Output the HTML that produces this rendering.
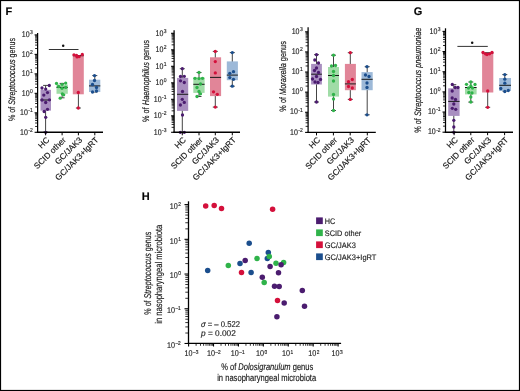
<!DOCTYPE html>
<html><head><meta charset="utf-8"><style>
html,body{margin:0;padding:0;background:#fff;}
svg{display:block;will-change:transform;}
text{stroke:#222;stroke-width:0.15px;text-rendering:geometricPrecision;}
</style></head><body>
<svg width="520" height="391" viewBox="0 0 520 391">
<rect x="0" y="0" width="520" height="391" fill="#fff"/>
<text x="5.5" y="15.3" font-family="Liberation Sans, sans-serif" font-size="11" font-weight="bold" fill="#000">F</text>
<text x="14.9" y="79.5" font-family="Liberation Sans, sans-serif" font-size="9.4" text-anchor="middle" fill="#111" transform="rotate(-90 14.9 79.5)" textLength="83" lengthAdjust="spacingAndGlyphs">% of <tspan font-style="italic">Streptococcus</tspan> genus</text>
<line x1="37.6" y1="33" x2="37.6" y2="132.9" stroke="#000" stroke-width="1.25"/>
<line x1="34.6" y1="34.90" x2="37.6" y2="34.90" stroke="#000" stroke-width="1.1"/>
<line x1="35.1" y1="48.52" x2="37.6" y2="48.52" stroke="#000" stroke-width="0.85"/>
<line x1="35.1" y1="45.09" x2="37.6" y2="45.09" stroke="#000" stroke-width="0.85"/>
<line x1="35.1" y1="42.65" x2="37.6" y2="42.65" stroke="#000" stroke-width="0.85"/>
<line x1="35.1" y1="40.76" x2="37.6" y2="40.76" stroke="#000" stroke-width="0.85"/>
<line x1="35.1" y1="39.22" x2="37.6" y2="39.22" stroke="#000" stroke-width="0.85"/>
<line x1="35.1" y1="37.92" x2="37.6" y2="37.92" stroke="#000" stroke-width="0.85"/>
<line x1="35.1" y1="36.79" x2="37.6" y2="36.79" stroke="#000" stroke-width="0.85"/>
<line x1="35.1" y1="35.79" x2="37.6" y2="35.79" stroke="#000" stroke-width="0.85"/>
<g transform="translate(21.78 37.10) scale(0.86 1)"><text x="0" y="0" font-family="Liberation Sans, sans-serif" font-size="8.2" fill="#222">10</text><text x="9.58" y="-2.9" font-family="Liberation Sans, sans-serif" font-size="5.8" fill="#222">3</text></g>
<line x1="34.6" y1="54.38" x2="37.6" y2="54.38" stroke="#000" stroke-width="1.1"/>
<line x1="35.1" y1="68.00" x2="37.6" y2="68.00" stroke="#000" stroke-width="0.85"/>
<line x1="35.1" y1="64.57" x2="37.6" y2="64.57" stroke="#000" stroke-width="0.85"/>
<line x1="35.1" y1="62.13" x2="37.6" y2="62.13" stroke="#000" stroke-width="0.85"/>
<line x1="35.1" y1="60.24" x2="37.6" y2="60.24" stroke="#000" stroke-width="0.85"/>
<line x1="35.1" y1="58.70" x2="37.6" y2="58.70" stroke="#000" stroke-width="0.85"/>
<line x1="35.1" y1="57.40" x2="37.6" y2="57.40" stroke="#000" stroke-width="0.85"/>
<line x1="35.1" y1="56.27" x2="37.6" y2="56.27" stroke="#000" stroke-width="0.85"/>
<line x1="35.1" y1="55.27" x2="37.6" y2="55.27" stroke="#000" stroke-width="0.85"/>
<g transform="translate(21.78 56.58) scale(0.86 1)"><text x="0" y="0" font-family="Liberation Sans, sans-serif" font-size="8.2" fill="#222">10</text><text x="9.58" y="-2.9" font-family="Liberation Sans, sans-serif" font-size="5.8" fill="#222">2</text></g>
<line x1="34.6" y1="73.86" x2="37.6" y2="73.86" stroke="#000" stroke-width="1.1"/>
<line x1="35.1" y1="87.48" x2="37.6" y2="87.48" stroke="#000" stroke-width="0.85"/>
<line x1="35.1" y1="84.05" x2="37.6" y2="84.05" stroke="#000" stroke-width="0.85"/>
<line x1="35.1" y1="81.61" x2="37.6" y2="81.61" stroke="#000" stroke-width="0.85"/>
<line x1="35.1" y1="79.72" x2="37.6" y2="79.72" stroke="#000" stroke-width="0.85"/>
<line x1="35.1" y1="78.18" x2="37.6" y2="78.18" stroke="#000" stroke-width="0.85"/>
<line x1="35.1" y1="76.88" x2="37.6" y2="76.88" stroke="#000" stroke-width="0.85"/>
<line x1="35.1" y1="75.75" x2="37.6" y2="75.75" stroke="#000" stroke-width="0.85"/>
<line x1="35.1" y1="74.75" x2="37.6" y2="74.75" stroke="#000" stroke-width="0.85"/>
<g transform="translate(21.78 76.06) scale(0.86 1)"><text x="0" y="0" font-family="Liberation Sans, sans-serif" font-size="8.2" fill="#222">10</text><text x="9.58" y="-2.9" font-family="Liberation Sans, sans-serif" font-size="5.8" fill="#222">1</text></g>
<line x1="34.6" y1="93.34" x2="37.6" y2="93.34" stroke="#000" stroke-width="1.1"/>
<line x1="35.1" y1="106.96" x2="37.6" y2="106.96" stroke="#000" stroke-width="0.85"/>
<line x1="35.1" y1="103.53" x2="37.6" y2="103.53" stroke="#000" stroke-width="0.85"/>
<line x1="35.1" y1="101.09" x2="37.6" y2="101.09" stroke="#000" stroke-width="0.85"/>
<line x1="35.1" y1="99.20" x2="37.6" y2="99.20" stroke="#000" stroke-width="0.85"/>
<line x1="35.1" y1="97.66" x2="37.6" y2="97.66" stroke="#000" stroke-width="0.85"/>
<line x1="35.1" y1="96.36" x2="37.6" y2="96.36" stroke="#000" stroke-width="0.85"/>
<line x1="35.1" y1="95.23" x2="37.6" y2="95.23" stroke="#000" stroke-width="0.85"/>
<line x1="35.1" y1="94.23" x2="37.6" y2="94.23" stroke="#000" stroke-width="0.85"/>
<g transform="translate(21.78 95.54) scale(0.86 1)"><text x="0" y="0" font-family="Liberation Sans, sans-serif" font-size="8.2" fill="#222">10</text><text x="9.58" y="-2.9" font-family="Liberation Sans, sans-serif" font-size="5.8" fill="#222">0</text></g>
<line x1="34.6" y1="112.82" x2="37.6" y2="112.82" stroke="#000" stroke-width="1.1"/>
<line x1="35.1" y1="126.44" x2="37.6" y2="126.44" stroke="#000" stroke-width="0.85"/>
<line x1="35.1" y1="123.01" x2="37.6" y2="123.01" stroke="#000" stroke-width="0.85"/>
<line x1="35.1" y1="120.57" x2="37.6" y2="120.57" stroke="#000" stroke-width="0.85"/>
<line x1="35.1" y1="118.68" x2="37.6" y2="118.68" stroke="#000" stroke-width="0.85"/>
<line x1="35.1" y1="117.14" x2="37.6" y2="117.14" stroke="#000" stroke-width="0.85"/>
<line x1="35.1" y1="115.84" x2="37.6" y2="115.84" stroke="#000" stroke-width="0.85"/>
<line x1="35.1" y1="114.71" x2="37.6" y2="114.71" stroke="#000" stroke-width="0.85"/>
<line x1="35.1" y1="113.71" x2="37.6" y2="113.71" stroke="#000" stroke-width="0.85"/>
<g transform="translate(20.12 115.02) scale(0.86 1)"><text x="0" y="0" font-family="Liberation Sans, sans-serif" font-size="8.2" fill="#222">10</text><text x="9.58" y="-2.9" font-family="Liberation Sans, sans-serif" font-size="5.8" fill="#222">-1</text></g>
<line x1="34.6" y1="132.30" x2="37.6" y2="132.30" stroke="#000" stroke-width="1.1"/>
<g transform="translate(20.12 134.50) scale(0.86 1)"><text x="0" y="0" font-family="Liberation Sans, sans-serif" font-size="8.2" fill="#222">10</text><text x="9.58" y="-2.9" font-family="Liberation Sans, sans-serif" font-size="5.8" fill="#222">-2</text></g>
<line x1="45.6" y1="85.4" x2="45.6" y2="132.2" stroke="#444" stroke-width="1"/>
<line x1="43.1" y1="85.4" x2="48.1" y2="85.4" stroke="#444" stroke-width="1"/>
<line x1="43.1" y1="132.2" x2="48.1" y2="132.2" stroke="#444" stroke-width="1"/>
<rect x="40.5" y="89.8" width="10.5" height="20.799999999999997" fill="#a98fc0"/>
<line x1="40.5" y1="100" x2="51" y2="100" stroke="#1a1a1a" stroke-width="1"/>
<circle cx="49.3" cy="85.5" r="1.65" fill="#4b1c6f"/>
<circle cx="42" cy="88" r="1.65" fill="#4b1c6f"/>
<circle cx="45.7" cy="89.1" r="1.65" fill="#4b1c6f"/>
<circle cx="47.5" cy="92.6" r="1.65" fill="#4b1c6f"/>
<circle cx="43.8" cy="95.1" r="1.65" fill="#4b1c6f"/>
<circle cx="42" cy="100" r="1.65" fill="#4b1c6f"/>
<circle cx="49.4" cy="99.8" r="1.65" fill="#4b1c6f"/>
<circle cx="45.7" cy="102.5" r="1.65" fill="#4b1c6f"/>
<circle cx="47.5" cy="109.3" r="1.65" fill="#4b1c6f"/>
<circle cx="44.2" cy="111.5" r="1.65" fill="#4b1c6f"/>
<circle cx="45.7" cy="117.3" r="1.65" fill="#4b1c6f"/>
<circle cx="45.7" cy="132.3" r="1.65" fill="#4b1c6f"/>
<line x1="62.1" y1="83.4" x2="62.1" y2="97.8" stroke="#444" stroke-width="1"/>
<line x1="59.6" y1="83.4" x2="64.6" y2="83.4" stroke="#444" stroke-width="1"/>
<line x1="59.6" y1="97.8" x2="64.6" y2="97.8" stroke="#444" stroke-width="1"/>
<rect x="56.5" y="84.5" width="11.299999999999997" height="9.299999999999997" fill="#a0dca7"/>
<line x1="56.5" y1="87.4" x2="67.8" y2="87.4" stroke="#1a1a1a" stroke-width="1"/>
<circle cx="56.5" cy="83.4" r="1.65" fill="#2fb34a"/>
<circle cx="62.1" cy="84.3" r="1.65" fill="#2fb34a"/>
<circle cx="65.7" cy="83.1" r="1.65" fill="#2fb34a"/>
<circle cx="58.6" cy="86.5" r="1.65" fill="#2fb34a"/>
<circle cx="62" cy="88.3" r="1.65" fill="#2fb34a"/>
<circle cx="65.7" cy="87.4" r="1.65" fill="#2fb34a"/>
<circle cx="62.3" cy="93.8" r="1.65" fill="#2fb34a"/>
<circle cx="63.7" cy="94.8" r="1.65" fill="#2fb34a"/>
<circle cx="60.2" cy="98.2" r="1.65" fill="#2fb34a"/>
<line x1="78.4" y1="55.7" x2="78.4" y2="108" stroke="#444" stroke-width="1"/>
<line x1="75.9" y1="55.7" x2="80.9" y2="55.7" stroke="#444" stroke-width="1"/>
<line x1="75.9" y1="108" x2="80.9" y2="108" stroke="#444" stroke-width="1"/>
<rect x="72.8" y="55.7" width="11.0" height="38.599999999999994" fill="#e18598"/>
<line x1="72.8" y1="55.7" x2="83.8" y2="55.7" stroke="#1a1a1a" stroke-width="1"/>
<circle cx="74" cy="54.8" r="1.65" fill="#d4103b"/>
<circle cx="82.3" cy="54.5" r="1.65" fill="#d4103b"/>
<circle cx="77.1" cy="56.9" r="1.65" fill="#d4103b"/>
<circle cx="79.2" cy="56.6" r="1.65" fill="#d4103b"/>
<circle cx="76.5" cy="55.4" r="1.65" fill="#d4103b"/>
<circle cx="78.3" cy="92.5" r="1.65" fill="#d4103b"/>
<circle cx="78.3" cy="108" r="1.65" fill="#d4103b"/>
<line x1="94.8" y1="75.6" x2="94.8" y2="92" stroke="#444" stroke-width="1"/>
<line x1="92.3" y1="75.6" x2="97.3" y2="75.6" stroke="#444" stroke-width="1"/>
<line x1="92.3" y1="92" x2="97.3" y2="92" stroke="#444" stroke-width="1"/>
<rect x="89" y="79.7" width="11.299999999999997" height="12.299999999999997" fill="#9db9d8"/>
<line x1="89" y1="85.9" x2="100.3" y2="85.9" stroke="#1a1a1a" stroke-width="1"/>
<circle cx="94.5" cy="75.6" r="1.65" fill="#1b4e8d"/>
<circle cx="94.5" cy="80.5" r="1.65" fill="#1b4e8d"/>
<circle cx="92.5" cy="84.5" r="1.65" fill="#1b4e8d"/>
<circle cx="96.5" cy="87.5" r="1.65" fill="#1b4e8d"/>
<circle cx="92.5" cy="92" r="1.65" fill="#1b4e8d"/>
<circle cx="96.5" cy="91" r="1.65" fill="#1b4e8d"/>
<line x1="36.9" y1="132.3" x2="103" y2="132.3" stroke="#000" stroke-width="1.4"/>
<line x1="45.6" y1="132.3" x2="45.6" y2="135.3" stroke="#000" stroke-width="1"/>
<line x1="62.1" y1="132.3" x2="62.1" y2="135.3" stroke="#000" stroke-width="1"/>
<line x1="78.4" y1="132.3" x2="78.4" y2="135.3" stroke="#000" stroke-width="1"/>
<line x1="94.8" y1="132.3" x2="94.8" y2="135.3" stroke="#000" stroke-width="1"/>
<text x="49.9" y="140.5" font-family="Liberation Sans, sans-serif" font-size="8.3" text-anchor="end" fill="#111" transform="rotate(-45 49.9 140.5)">HC</text>
<text x="66.4" y="140.5" font-family="Liberation Sans, sans-serif" font-size="8.3" text-anchor="end" fill="#111" transform="rotate(-45 66.4 140.5)">SCID other</text>
<text x="82.7" y="140.5" font-family="Liberation Sans, sans-serif" font-size="8.3" text-anchor="end" fill="#111" transform="rotate(-45 82.7 140.5)">GC/JAK3</text>
<text x="99.1" y="140.5" font-family="Liberation Sans, sans-serif" font-size="8.3" text-anchor="end" fill="#111" transform="rotate(-45 99.1 140.5)">GC/JAK3+IgRT</text>
<line x1="48.8" y1="49.5" x2="78.5" y2="49.5" stroke="#333" stroke-width="1"/>
<circle cx="63.2" cy="45.7" r="1.25" fill="#111"/>
<text x="148.6" y="81" font-family="Liberation Sans, sans-serif" font-size="9.4" text-anchor="middle" fill="#111" transform="rotate(-90 148.6 81)" textLength="82" lengthAdjust="spacingAndGlyphs">% of <tspan font-style="italic">Haemophilus</tspan> genus</text>
<line x1="174.1" y1="30.2" x2="174.1" y2="132.9" stroke="#000" stroke-width="1.25"/>
<line x1="171.1" y1="33.30" x2="174.1" y2="33.30" stroke="#000" stroke-width="1.1"/>
<line x1="171.6" y1="44.83" x2="174.1" y2="44.83" stroke="#000" stroke-width="0.85"/>
<line x1="171.6" y1="41.93" x2="174.1" y2="41.93" stroke="#000" stroke-width="0.85"/>
<line x1="171.6" y1="39.87" x2="174.1" y2="39.87" stroke="#000" stroke-width="0.85"/>
<line x1="171.6" y1="38.27" x2="174.1" y2="38.27" stroke="#000" stroke-width="0.85"/>
<line x1="171.6" y1="36.96" x2="174.1" y2="36.96" stroke="#000" stroke-width="0.85"/>
<line x1="171.6" y1="35.86" x2="174.1" y2="35.86" stroke="#000" stroke-width="0.85"/>
<line x1="171.6" y1="34.90" x2="174.1" y2="34.90" stroke="#000" stroke-width="0.85"/>
<line x1="171.6" y1="34.05" x2="174.1" y2="34.05" stroke="#000" stroke-width="0.85"/>
<g transform="translate(155.48 35.50) scale(0.86 1)"><text x="0" y="0" font-family="Liberation Sans, sans-serif" font-size="8.2" fill="#222">10</text><text x="9.58" y="-2.9" font-family="Liberation Sans, sans-serif" font-size="5.8" fill="#222">3</text></g>
<line x1="171.1" y1="49.80" x2="174.1" y2="49.80" stroke="#000" stroke-width="1.1"/>
<line x1="171.6" y1="61.33" x2="174.1" y2="61.33" stroke="#000" stroke-width="0.85"/>
<line x1="171.6" y1="58.43" x2="174.1" y2="58.43" stroke="#000" stroke-width="0.85"/>
<line x1="171.6" y1="56.37" x2="174.1" y2="56.37" stroke="#000" stroke-width="0.85"/>
<line x1="171.6" y1="54.77" x2="174.1" y2="54.77" stroke="#000" stroke-width="0.85"/>
<line x1="171.6" y1="53.46" x2="174.1" y2="53.46" stroke="#000" stroke-width="0.85"/>
<line x1="171.6" y1="52.36" x2="174.1" y2="52.36" stroke="#000" stroke-width="0.85"/>
<line x1="171.6" y1="51.40" x2="174.1" y2="51.40" stroke="#000" stroke-width="0.85"/>
<line x1="171.6" y1="50.55" x2="174.1" y2="50.55" stroke="#000" stroke-width="0.85"/>
<g transform="translate(155.48 52.00) scale(0.86 1)"><text x="0" y="0" font-family="Liberation Sans, sans-serif" font-size="8.2" fill="#222">10</text><text x="9.58" y="-2.9" font-family="Liberation Sans, sans-serif" font-size="5.8" fill="#222">2</text></g>
<line x1="171.1" y1="66.30" x2="174.1" y2="66.30" stroke="#000" stroke-width="1.1"/>
<line x1="171.6" y1="77.83" x2="174.1" y2="77.83" stroke="#000" stroke-width="0.85"/>
<line x1="171.6" y1="74.93" x2="174.1" y2="74.93" stroke="#000" stroke-width="0.85"/>
<line x1="171.6" y1="72.87" x2="174.1" y2="72.87" stroke="#000" stroke-width="0.85"/>
<line x1="171.6" y1="71.27" x2="174.1" y2="71.27" stroke="#000" stroke-width="0.85"/>
<line x1="171.6" y1="69.96" x2="174.1" y2="69.96" stroke="#000" stroke-width="0.85"/>
<line x1="171.6" y1="68.86" x2="174.1" y2="68.86" stroke="#000" stroke-width="0.85"/>
<line x1="171.6" y1="67.90" x2="174.1" y2="67.90" stroke="#000" stroke-width="0.85"/>
<line x1="171.6" y1="67.05" x2="174.1" y2="67.05" stroke="#000" stroke-width="0.85"/>
<g transform="translate(155.48 68.50) scale(0.86 1)"><text x="0" y="0" font-family="Liberation Sans, sans-serif" font-size="8.2" fill="#222">10</text><text x="9.58" y="-2.9" font-family="Liberation Sans, sans-serif" font-size="5.8" fill="#222">1</text></g>
<line x1="171.1" y1="82.80" x2="174.1" y2="82.80" stroke="#000" stroke-width="1.1"/>
<line x1="171.6" y1="94.33" x2="174.1" y2="94.33" stroke="#000" stroke-width="0.85"/>
<line x1="171.6" y1="91.43" x2="174.1" y2="91.43" stroke="#000" stroke-width="0.85"/>
<line x1="171.6" y1="89.37" x2="174.1" y2="89.37" stroke="#000" stroke-width="0.85"/>
<line x1="171.6" y1="87.77" x2="174.1" y2="87.77" stroke="#000" stroke-width="0.85"/>
<line x1="171.6" y1="86.46" x2="174.1" y2="86.46" stroke="#000" stroke-width="0.85"/>
<line x1="171.6" y1="85.36" x2="174.1" y2="85.36" stroke="#000" stroke-width="0.85"/>
<line x1="171.6" y1="84.40" x2="174.1" y2="84.40" stroke="#000" stroke-width="0.85"/>
<line x1="171.6" y1="83.55" x2="174.1" y2="83.55" stroke="#000" stroke-width="0.85"/>
<g transform="translate(155.48 85.00) scale(0.86 1)"><text x="0" y="0" font-family="Liberation Sans, sans-serif" font-size="8.2" fill="#222">10</text><text x="9.58" y="-2.9" font-family="Liberation Sans, sans-serif" font-size="5.8" fill="#222">0</text></g>
<line x1="171.1" y1="99.30" x2="174.1" y2="99.30" stroke="#000" stroke-width="1.1"/>
<line x1="171.6" y1="110.83" x2="174.1" y2="110.83" stroke="#000" stroke-width="0.85"/>
<line x1="171.6" y1="107.93" x2="174.1" y2="107.93" stroke="#000" stroke-width="0.85"/>
<line x1="171.6" y1="105.87" x2="174.1" y2="105.87" stroke="#000" stroke-width="0.85"/>
<line x1="171.6" y1="104.27" x2="174.1" y2="104.27" stroke="#000" stroke-width="0.85"/>
<line x1="171.6" y1="102.96" x2="174.1" y2="102.96" stroke="#000" stroke-width="0.85"/>
<line x1="171.6" y1="101.86" x2="174.1" y2="101.86" stroke="#000" stroke-width="0.85"/>
<line x1="171.6" y1="100.90" x2="174.1" y2="100.90" stroke="#000" stroke-width="0.85"/>
<line x1="171.6" y1="100.05" x2="174.1" y2="100.05" stroke="#000" stroke-width="0.85"/>
<g transform="translate(153.82 101.50) scale(0.86 1)"><text x="0" y="0" font-family="Liberation Sans, sans-serif" font-size="8.2" fill="#222">10</text><text x="9.58" y="-2.9" font-family="Liberation Sans, sans-serif" font-size="5.8" fill="#222">-1</text></g>
<line x1="171.1" y1="115.80" x2="174.1" y2="115.80" stroke="#000" stroke-width="1.1"/>
<line x1="171.6" y1="127.33" x2="174.1" y2="127.33" stroke="#000" stroke-width="0.85"/>
<line x1="171.6" y1="124.43" x2="174.1" y2="124.43" stroke="#000" stroke-width="0.85"/>
<line x1="171.6" y1="122.37" x2="174.1" y2="122.37" stroke="#000" stroke-width="0.85"/>
<line x1="171.6" y1="120.77" x2="174.1" y2="120.77" stroke="#000" stroke-width="0.85"/>
<line x1="171.6" y1="119.46" x2="174.1" y2="119.46" stroke="#000" stroke-width="0.85"/>
<line x1="171.6" y1="118.36" x2="174.1" y2="118.36" stroke="#000" stroke-width="0.85"/>
<line x1="171.6" y1="117.40" x2="174.1" y2="117.40" stroke="#000" stroke-width="0.85"/>
<line x1="171.6" y1="116.55" x2="174.1" y2="116.55" stroke="#000" stroke-width="0.85"/>
<g transform="translate(153.82 118.00) scale(0.86 1)"><text x="0" y="0" font-family="Liberation Sans, sans-serif" font-size="8.2" fill="#222">10</text><text x="9.58" y="-2.9" font-family="Liberation Sans, sans-serif" font-size="5.8" fill="#222">-2</text></g>
<line x1="171.1" y1="132.30" x2="174.1" y2="132.30" stroke="#000" stroke-width="1.1"/>
<g transform="translate(153.82 134.50) scale(0.86 1)"><text x="0" y="0" font-family="Liberation Sans, sans-serif" font-size="8.2" fill="#222">10</text><text x="9.58" y="-2.9" font-family="Liberation Sans, sans-serif" font-size="5.8" fill="#222">-3</text></g>
<line x1="182.3" y1="68.7" x2="182.3" y2="132.3" stroke="#444" stroke-width="1"/>
<line x1="179.8" y1="68.7" x2="184.8" y2="68.7" stroke="#444" stroke-width="1"/>
<line x1="179.8" y1="132.3" x2="184.8" y2="132.3" stroke="#444" stroke-width="1"/>
<rect x="177" y="77.9" width="11.199999999999989" height="33.0" fill="#a98fc0"/>
<line x1="177" y1="94.3" x2="188.2" y2="94.3" stroke="#1a1a1a" stroke-width="1"/>
<circle cx="182.3" cy="68.7" r="1.65" fill="#4b1c6f"/>
<circle cx="180.5" cy="76.5" r="1.65" fill="#4b1c6f"/>
<circle cx="184.3" cy="76.3" r="1.65" fill="#4b1c6f"/>
<circle cx="180.5" cy="80.8" r="1.65" fill="#4b1c6f"/>
<circle cx="184.3" cy="82.5" r="1.65" fill="#4b1c6f"/>
<circle cx="182.5" cy="91.5" r="1.65" fill="#4b1c6f"/>
<circle cx="182.3" cy="99.3" r="1.65" fill="#4b1c6f"/>
<circle cx="184.3" cy="102.4" r="1.65" fill="#4b1c6f"/>
<circle cx="180.4" cy="105" r="1.65" fill="#4b1c6f"/>
<circle cx="182.5" cy="115" r="1.65" fill="#4b1c6f"/>
<circle cx="180.3" cy="132.3" r="1.65" fill="#4b1c6f"/>
<circle cx="184.3" cy="132.3" r="1.65" fill="#4b1c6f"/>
<line x1="199" y1="72.5" x2="199" y2="96.5" stroke="#444" stroke-width="1"/>
<line x1="196.5" y1="72.5" x2="201.5" y2="72.5" stroke="#444" stroke-width="1"/>
<line x1="196.5" y1="96.5" x2="201.5" y2="96.5" stroke="#444" stroke-width="1"/>
<rect x="193.3" y="77.4" width="11.299999999999983" height="15.5" fill="#a0dca7"/>
<line x1="193.3" y1="84.3" x2="204.6" y2="84.3" stroke="#1a1a1a" stroke-width="1"/>
<circle cx="199" cy="72.5" r="1.65" fill="#2fb34a"/>
<circle cx="195" cy="78.3" r="1.65" fill="#2fb34a"/>
<circle cx="199" cy="78.6" r="1.65" fill="#2fb34a"/>
<circle cx="202.5" cy="78.3" r="1.65" fill="#2fb34a"/>
<circle cx="200.5" cy="84" r="1.65" fill="#2fb34a"/>
<circle cx="197" cy="87.5" r="1.65" fill="#2fb34a"/>
<circle cx="199" cy="91.5" r="1.65" fill="#2fb34a"/>
<circle cx="200.5" cy="93.8" r="1.65" fill="#2fb34a"/>
<circle cx="197" cy="96.5" r="1.65" fill="#2fb34a"/>
<line x1="215.3" y1="51.4" x2="215.3" y2="107.1" stroke="#444" stroke-width="1"/>
<line x1="212.8" y1="51.4" x2="217.8" y2="51.4" stroke="#444" stroke-width="1"/>
<line x1="212.8" y1="107.1" x2="217.8" y2="107.1" stroke="#444" stroke-width="1"/>
<rect x="210" y="57.3" width="11.099999999999994" height="38.8" fill="#e18598"/>
<line x1="210" y1="77.4" x2="221.1" y2="77.4" stroke="#1a1a1a" stroke-width="1"/>
<circle cx="215.3" cy="51.4" r="1.65" fill="#d4103b"/>
<circle cx="215.3" cy="61.6" r="1.65" fill="#d4103b"/>
<circle cx="215.3" cy="72.9" r="1.65" fill="#d4103b"/>
<circle cx="213.5" cy="91.8" r="1.65" fill="#d4103b"/>
<circle cx="217.3" cy="94.3" r="1.65" fill="#d4103b"/>
<circle cx="215.3" cy="107.1" r="1.65" fill="#d4103b"/>
<line x1="232.3" y1="52.6" x2="232.3" y2="86.2" stroke="#444" stroke-width="1"/>
<line x1="229.8" y1="52.6" x2="234.8" y2="52.6" stroke="#444" stroke-width="1"/>
<line x1="229.8" y1="86.2" x2="234.8" y2="86.2" stroke="#444" stroke-width="1"/>
<rect x="226.8" y="61.4" width="11.099999999999994" height="18.800000000000004" fill="#9db9d8"/>
<line x1="226.8" y1="75.1" x2="237.9" y2="75.1" stroke="#1a1a1a" stroke-width="1"/>
<circle cx="232.3" cy="52.6" r="1.65" fill="#1b4e8d"/>
<circle cx="229.8" cy="73.3" r="1.65" fill="#1b4e8d"/>
<circle cx="233.5" cy="71.7" r="1.65" fill="#1b4e8d"/>
<circle cx="229.8" cy="77.6" r="1.65" fill="#1b4e8d"/>
<circle cx="233.5" cy="79.3" r="1.65" fill="#1b4e8d"/>
<circle cx="232.3" cy="86.2" r="1.65" fill="#1b4e8d"/>
<line x1="173.4" y1="132.3" x2="240" y2="132.3" stroke="#000" stroke-width="1.4"/>
<line x1="182.3" y1="132.3" x2="182.3" y2="135.3" stroke="#000" stroke-width="1"/>
<line x1="199" y1="132.3" x2="199" y2="135.3" stroke="#000" stroke-width="1"/>
<line x1="215.3" y1="132.3" x2="215.3" y2="135.3" stroke="#000" stroke-width="1"/>
<line x1="232.3" y1="132.3" x2="232.3" y2="135.3" stroke="#000" stroke-width="1"/>
<text x="186.60000000000002" y="140.5" font-family="Liberation Sans, sans-serif" font-size="8.3" text-anchor="end" fill="#111" transform="rotate(-45 186.60000000000002 140.5)">HC</text>
<text x="203.3" y="140.5" font-family="Liberation Sans, sans-serif" font-size="8.3" text-anchor="end" fill="#111" transform="rotate(-45 203.3 140.5)">SCID other</text>
<text x="219.60000000000002" y="140.5" font-family="Liberation Sans, sans-serif" font-size="8.3" text-anchor="end" fill="#111" transform="rotate(-45 219.60000000000002 140.5)">GC/JAK3</text>
<text x="236.60000000000002" y="140.5" font-family="Liberation Sans, sans-serif" font-size="8.3" text-anchor="end" fill="#111" transform="rotate(-45 236.60000000000002 140.5)">GC/JAK3+IgRT</text>
<text x="286.4" y="76.4" font-family="Liberation Sans, sans-serif" font-size="9.4" text-anchor="middle" fill="#111" transform="rotate(-90 286.4 76.4)" textLength="70.5" lengthAdjust="spacingAndGlyphs">% of <tspan font-style="italic">Moraxella</tspan> genus</text>
<line x1="308.1" y1="27.2" x2="308.1" y2="133.0" stroke="#000" stroke-width="1.25"/>
<line x1="305.1" y1="31.80" x2="308.1" y2="31.80" stroke="#000" stroke-width="1.1"/>
<line x1="305.6" y1="45.86" x2="308.1" y2="45.86" stroke="#000" stroke-width="0.85"/>
<line x1="305.6" y1="42.32" x2="308.1" y2="42.32" stroke="#000" stroke-width="0.85"/>
<line x1="305.6" y1="39.81" x2="308.1" y2="39.81" stroke="#000" stroke-width="0.85"/>
<line x1="305.6" y1="37.86" x2="308.1" y2="37.86" stroke="#000" stroke-width="0.85"/>
<line x1="305.6" y1="36.26" x2="308.1" y2="36.26" stroke="#000" stroke-width="0.85"/>
<line x1="305.6" y1="34.92" x2="308.1" y2="34.92" stroke="#000" stroke-width="0.85"/>
<line x1="305.6" y1="33.75" x2="308.1" y2="33.75" stroke="#000" stroke-width="0.85"/>
<line x1="305.6" y1="32.72" x2="308.1" y2="32.72" stroke="#000" stroke-width="0.85"/>
<g transform="translate(291.68 34.00) scale(0.86 1)"><text x="0" y="0" font-family="Liberation Sans, sans-serif" font-size="8.2" fill="#222">10</text><text x="9.58" y="-2.9" font-family="Liberation Sans, sans-serif" font-size="5.8" fill="#222">3</text></g>
<line x1="305.1" y1="51.92" x2="308.1" y2="51.92" stroke="#000" stroke-width="1.1"/>
<line x1="305.6" y1="65.98" x2="308.1" y2="65.98" stroke="#000" stroke-width="0.85"/>
<line x1="305.6" y1="62.44" x2="308.1" y2="62.44" stroke="#000" stroke-width="0.85"/>
<line x1="305.6" y1="59.93" x2="308.1" y2="59.93" stroke="#000" stroke-width="0.85"/>
<line x1="305.6" y1="57.98" x2="308.1" y2="57.98" stroke="#000" stroke-width="0.85"/>
<line x1="305.6" y1="56.38" x2="308.1" y2="56.38" stroke="#000" stroke-width="0.85"/>
<line x1="305.6" y1="55.04" x2="308.1" y2="55.04" stroke="#000" stroke-width="0.85"/>
<line x1="305.6" y1="53.87" x2="308.1" y2="53.87" stroke="#000" stroke-width="0.85"/>
<line x1="305.6" y1="52.84" x2="308.1" y2="52.84" stroke="#000" stroke-width="0.85"/>
<g transform="translate(291.68 54.12) scale(0.86 1)"><text x="0" y="0" font-family="Liberation Sans, sans-serif" font-size="8.2" fill="#222">10</text><text x="9.58" y="-2.9" font-family="Liberation Sans, sans-serif" font-size="5.8" fill="#222">2</text></g>
<line x1="305.1" y1="72.04" x2="308.1" y2="72.04" stroke="#000" stroke-width="1.1"/>
<line x1="305.6" y1="86.10" x2="308.1" y2="86.10" stroke="#000" stroke-width="0.85"/>
<line x1="305.6" y1="82.56" x2="308.1" y2="82.56" stroke="#000" stroke-width="0.85"/>
<line x1="305.6" y1="80.05" x2="308.1" y2="80.05" stroke="#000" stroke-width="0.85"/>
<line x1="305.6" y1="78.10" x2="308.1" y2="78.10" stroke="#000" stroke-width="0.85"/>
<line x1="305.6" y1="76.50" x2="308.1" y2="76.50" stroke="#000" stroke-width="0.85"/>
<line x1="305.6" y1="75.16" x2="308.1" y2="75.16" stroke="#000" stroke-width="0.85"/>
<line x1="305.6" y1="73.99" x2="308.1" y2="73.99" stroke="#000" stroke-width="0.85"/>
<line x1="305.6" y1="72.96" x2="308.1" y2="72.96" stroke="#000" stroke-width="0.85"/>
<g transform="translate(291.68 74.24) scale(0.86 1)"><text x="0" y="0" font-family="Liberation Sans, sans-serif" font-size="8.2" fill="#222">10</text><text x="9.58" y="-2.9" font-family="Liberation Sans, sans-serif" font-size="5.8" fill="#222">1</text></g>
<line x1="305.1" y1="92.16" x2="308.1" y2="92.16" stroke="#000" stroke-width="1.1"/>
<line x1="305.6" y1="106.22" x2="308.1" y2="106.22" stroke="#000" stroke-width="0.85"/>
<line x1="305.6" y1="102.68" x2="308.1" y2="102.68" stroke="#000" stroke-width="0.85"/>
<line x1="305.6" y1="100.17" x2="308.1" y2="100.17" stroke="#000" stroke-width="0.85"/>
<line x1="305.6" y1="98.22" x2="308.1" y2="98.22" stroke="#000" stroke-width="0.85"/>
<line x1="305.6" y1="96.62" x2="308.1" y2="96.62" stroke="#000" stroke-width="0.85"/>
<line x1="305.6" y1="95.28" x2="308.1" y2="95.28" stroke="#000" stroke-width="0.85"/>
<line x1="305.6" y1="94.11" x2="308.1" y2="94.11" stroke="#000" stroke-width="0.85"/>
<line x1="305.6" y1="93.08" x2="308.1" y2="93.08" stroke="#000" stroke-width="0.85"/>
<g transform="translate(291.68 94.36) scale(0.86 1)"><text x="0" y="0" font-family="Liberation Sans, sans-serif" font-size="8.2" fill="#222">10</text><text x="9.58" y="-2.9" font-family="Liberation Sans, sans-serif" font-size="5.8" fill="#222">0</text></g>
<line x1="305.1" y1="112.28" x2="308.1" y2="112.28" stroke="#000" stroke-width="1.1"/>
<line x1="305.6" y1="126.34" x2="308.1" y2="126.34" stroke="#000" stroke-width="0.85"/>
<line x1="305.6" y1="122.80" x2="308.1" y2="122.80" stroke="#000" stroke-width="0.85"/>
<line x1="305.6" y1="120.29" x2="308.1" y2="120.29" stroke="#000" stroke-width="0.85"/>
<line x1="305.6" y1="118.34" x2="308.1" y2="118.34" stroke="#000" stroke-width="0.85"/>
<line x1="305.6" y1="116.74" x2="308.1" y2="116.74" stroke="#000" stroke-width="0.85"/>
<line x1="305.6" y1="115.40" x2="308.1" y2="115.40" stroke="#000" stroke-width="0.85"/>
<line x1="305.6" y1="114.23" x2="308.1" y2="114.23" stroke="#000" stroke-width="0.85"/>
<line x1="305.6" y1="113.20" x2="308.1" y2="113.20" stroke="#000" stroke-width="0.85"/>
<g transform="translate(290.02 114.48) scale(0.86 1)"><text x="0" y="0" font-family="Liberation Sans, sans-serif" font-size="8.2" fill="#222">10</text><text x="9.58" y="-2.9" font-family="Liberation Sans, sans-serif" font-size="5.8" fill="#222">-1</text></g>
<line x1="305.1" y1="132.40" x2="308.1" y2="132.40" stroke="#000" stroke-width="1.1"/>
<g transform="translate(290.02 134.60) scale(0.86 1)"><text x="0" y="0" font-family="Liberation Sans, sans-serif" font-size="8.2" fill="#222">10</text><text x="9.58" y="-2.9" font-family="Liberation Sans, sans-serif" font-size="5.8" fill="#222">-2</text></g>
<line x1="316.5" y1="54.7" x2="316.5" y2="102" stroke="#444" stroke-width="1"/>
<line x1="314.0" y1="54.7" x2="319.0" y2="54.7" stroke="#444" stroke-width="1"/>
<line x1="314.0" y1="102" x2="319.0" y2="102" stroke="#444" stroke-width="1"/>
<rect x="311.1" y="63.9" width="10.799999999999955" height="20.6" fill="#a98fc0"/>
<line x1="311.1" y1="74.2" x2="321.9" y2="74.2" stroke="#1a1a1a" stroke-width="1"/>
<circle cx="316.5" cy="54.7" r="1.65" fill="#4b1c6f"/>
<circle cx="314.8" cy="60" r="1.65" fill="#4b1c6f"/>
<circle cx="318.5" cy="63" r="1.65" fill="#4b1c6f"/>
<circle cx="316.5" cy="68" r="1.65" fill="#4b1c6f"/>
<circle cx="314.5" cy="70.5" r="1.65" fill="#4b1c6f"/>
<circle cx="318.5" cy="72.5" r="1.65" fill="#4b1c6f"/>
<circle cx="316.5" cy="76.5" r="1.65" fill="#4b1c6f"/>
<circle cx="312.5" cy="79" r="1.65" fill="#4b1c6f"/>
<circle cx="320.5" cy="79.5" r="1.65" fill="#4b1c6f"/>
<circle cx="315" cy="82" r="1.65" fill="#4b1c6f"/>
<circle cx="318" cy="82.5" r="1.65" fill="#4b1c6f"/>
<circle cx="316.5" cy="102" r="1.65" fill="#4b1c6f"/>
<line x1="333.5" y1="55.2" x2="333.5" y2="110.5" stroke="#444" stroke-width="1"/>
<line x1="331.0" y1="55.2" x2="336.0" y2="55.2" stroke="#444" stroke-width="1"/>
<line x1="331.0" y1="110.5" x2="336.0" y2="110.5" stroke="#444" stroke-width="1"/>
<rect x="328" y="67" width="11" height="29.599999999999994" fill="#a0dca7"/>
<line x1="328" y1="75.5" x2="339" y2="75.5" stroke="#1a1a1a" stroke-width="1"/>
<circle cx="333.5" cy="55.2" r="1.65" fill="#2fb34a"/>
<circle cx="331.5" cy="66" r="1.65" fill="#2fb34a"/>
<circle cx="335.5" cy="65.5" r="1.65" fill="#2fb34a"/>
<circle cx="333.5" cy="71.5" r="1.65" fill="#2fb34a"/>
<circle cx="333.5" cy="75.5" r="1.65" fill="#2fb34a"/>
<circle cx="333.5" cy="81" r="1.65" fill="#2fb34a"/>
<circle cx="333.5" cy="94.5" r="1.65" fill="#2fb34a"/>
<circle cx="333.5" cy="99" r="1.65" fill="#2fb34a"/>
<circle cx="333.5" cy="110.5" r="1.65" fill="#2fb34a"/>
<line x1="350.3" y1="52.7" x2="350.3" y2="99.4" stroke="#444" stroke-width="1"/>
<line x1="347.8" y1="52.7" x2="352.8" y2="52.7" stroke="#444" stroke-width="1"/>
<line x1="347.8" y1="99.4" x2="352.8" y2="99.4" stroke="#444" stroke-width="1"/>
<rect x="344.9" y="63.9" width="11.0" height="26.300000000000004" fill="#e18598"/>
<line x1="344.9" y1="83.9" x2="355.9" y2="83.9" stroke="#1a1a1a" stroke-width="1"/>
<circle cx="350.3" cy="52.7" r="1.65" fill="#d4103b"/>
<circle cx="352.3" cy="79.5" r="1.65" fill="#d4103b"/>
<circle cx="348.5" cy="81.7" r="1.65" fill="#d4103b"/>
<circle cx="348.5" cy="86.5" r="1.65" fill="#d4103b"/>
<circle cx="352.3" cy="88" r="1.65" fill="#d4103b"/>
<circle cx="350.3" cy="99.4" r="1.65" fill="#d4103b"/>
<line x1="367.2" y1="66.7" x2="367.2" y2="114.8" stroke="#444" stroke-width="1"/>
<line x1="364.7" y1="66.7" x2="369.7" y2="66.7" stroke="#444" stroke-width="1"/>
<line x1="364.7" y1="114.8" x2="369.7" y2="114.8" stroke="#444" stroke-width="1"/>
<rect x="361.5" y="72.1" width="11.199999999999989" height="18.10000000000001" fill="#9db9d8"/>
<line x1="361.5" y1="79.3" x2="372.7" y2="79.3" stroke="#1a1a1a" stroke-width="1"/>
<circle cx="367" cy="66.7" r="1.65" fill="#1b4e8d"/>
<circle cx="365.5" cy="75" r="1.65" fill="#1b4e8d"/>
<circle cx="369" cy="76.5" r="1.65" fill="#1b4e8d"/>
<circle cx="367" cy="83" r="1.65" fill="#1b4e8d"/>
<circle cx="367" cy="87.5" r="1.65" fill="#1b4e8d"/>
<circle cx="367" cy="114.8" r="1.65" fill="#1b4e8d"/>
<line x1="307.40000000000003" y1="132.4" x2="375.8" y2="132.4" stroke="#000" stroke-width="1.4"/>
<line x1="316.5" y1="132.4" x2="316.5" y2="135.4" stroke="#000" stroke-width="1"/>
<line x1="333.4" y1="132.4" x2="333.4" y2="135.4" stroke="#000" stroke-width="1"/>
<line x1="350.2" y1="132.4" x2="350.2" y2="135.4" stroke="#000" stroke-width="1"/>
<line x1="367.3" y1="132.4" x2="367.3" y2="135.4" stroke="#000" stroke-width="1"/>
<text x="320.8" y="140.6" font-family="Liberation Sans, sans-serif" font-size="8.3" text-anchor="end" fill="#111" transform="rotate(-45 320.8 140.6)">HC</text>
<text x="337.7" y="140.6" font-family="Liberation Sans, sans-serif" font-size="8.3" text-anchor="end" fill="#111" transform="rotate(-45 337.7 140.6)">SCID other</text>
<text x="354.5" y="140.6" font-family="Liberation Sans, sans-serif" font-size="8.3" text-anchor="end" fill="#111" transform="rotate(-45 354.5 140.6)">GC/JAK3</text>
<text x="371.6" y="140.6" font-family="Liberation Sans, sans-serif" font-size="8.3" text-anchor="end" fill="#111" transform="rotate(-45 371.6 140.6)">GC/JAK3+IgRT</text>
<text x="413.8" y="15.3" font-family="Liberation Sans, sans-serif" font-size="11" font-weight="bold" fill="#000">G</text>
<text x="420.9" y="80.2" font-family="Liberation Sans, sans-serif" font-size="9.4" text-anchor="middle" fill="#111" transform="rotate(-90 420.9 80.2)" textLength="105" lengthAdjust="spacingAndGlyphs">% of <tspan font-style="italic">Streptococcus pneumoniae</tspan></text>
<line x1="445.5" y1="28.3" x2="445.5" y2="132.79999999999998" stroke="#000" stroke-width="1.25"/>
<line x1="442.5" y1="31.40" x2="445.5" y2="31.40" stroke="#000" stroke-width="1.1"/>
<line x1="443.0" y1="45.49" x2="445.5" y2="45.49" stroke="#000" stroke-width="0.85"/>
<line x1="443.0" y1="41.94" x2="445.5" y2="41.94" stroke="#000" stroke-width="0.85"/>
<line x1="443.0" y1="39.42" x2="445.5" y2="39.42" stroke="#000" stroke-width="0.85"/>
<line x1="443.0" y1="37.47" x2="445.5" y2="37.47" stroke="#000" stroke-width="0.85"/>
<line x1="443.0" y1="35.87" x2="445.5" y2="35.87" stroke="#000" stroke-width="0.85"/>
<line x1="443.0" y1="34.52" x2="445.5" y2="34.52" stroke="#000" stroke-width="0.85"/>
<line x1="443.0" y1="33.35" x2="445.5" y2="33.35" stroke="#000" stroke-width="0.85"/>
<line x1="443.0" y1="32.32" x2="445.5" y2="32.32" stroke="#000" stroke-width="0.85"/>
<g transform="translate(429.58 33.60) scale(0.86 1)"><text x="0" y="0" font-family="Liberation Sans, sans-serif" font-size="8.2" fill="#222">10</text><text x="9.58" y="-2.9" font-family="Liberation Sans, sans-serif" font-size="5.8" fill="#222">3</text></g>
<line x1="442.5" y1="51.56" x2="445.5" y2="51.56" stroke="#000" stroke-width="1.1"/>
<line x1="443.0" y1="65.65" x2="445.5" y2="65.65" stroke="#000" stroke-width="0.85"/>
<line x1="443.0" y1="62.10" x2="445.5" y2="62.10" stroke="#000" stroke-width="0.85"/>
<line x1="443.0" y1="59.58" x2="445.5" y2="59.58" stroke="#000" stroke-width="0.85"/>
<line x1="443.0" y1="57.63" x2="445.5" y2="57.63" stroke="#000" stroke-width="0.85"/>
<line x1="443.0" y1="56.03" x2="445.5" y2="56.03" stroke="#000" stroke-width="0.85"/>
<line x1="443.0" y1="54.68" x2="445.5" y2="54.68" stroke="#000" stroke-width="0.85"/>
<line x1="443.0" y1="53.51" x2="445.5" y2="53.51" stroke="#000" stroke-width="0.85"/>
<line x1="443.0" y1="52.48" x2="445.5" y2="52.48" stroke="#000" stroke-width="0.85"/>
<g transform="translate(429.58 53.76) scale(0.86 1)"><text x="0" y="0" font-family="Liberation Sans, sans-serif" font-size="8.2" fill="#222">10</text><text x="9.58" y="-2.9" font-family="Liberation Sans, sans-serif" font-size="5.8" fill="#222">2</text></g>
<line x1="442.5" y1="71.72" x2="445.5" y2="71.72" stroke="#000" stroke-width="1.1"/>
<line x1="443.0" y1="85.81" x2="445.5" y2="85.81" stroke="#000" stroke-width="0.85"/>
<line x1="443.0" y1="82.26" x2="445.5" y2="82.26" stroke="#000" stroke-width="0.85"/>
<line x1="443.0" y1="79.74" x2="445.5" y2="79.74" stroke="#000" stroke-width="0.85"/>
<line x1="443.0" y1="77.79" x2="445.5" y2="77.79" stroke="#000" stroke-width="0.85"/>
<line x1="443.0" y1="76.19" x2="445.5" y2="76.19" stroke="#000" stroke-width="0.85"/>
<line x1="443.0" y1="74.84" x2="445.5" y2="74.84" stroke="#000" stroke-width="0.85"/>
<line x1="443.0" y1="73.67" x2="445.5" y2="73.67" stroke="#000" stroke-width="0.85"/>
<line x1="443.0" y1="72.64" x2="445.5" y2="72.64" stroke="#000" stroke-width="0.85"/>
<g transform="translate(429.58 73.92) scale(0.86 1)"><text x="0" y="0" font-family="Liberation Sans, sans-serif" font-size="8.2" fill="#222">10</text><text x="9.58" y="-2.9" font-family="Liberation Sans, sans-serif" font-size="5.8" fill="#222">1</text></g>
<line x1="442.5" y1="91.88" x2="445.5" y2="91.88" stroke="#000" stroke-width="1.1"/>
<line x1="443.0" y1="105.97" x2="445.5" y2="105.97" stroke="#000" stroke-width="0.85"/>
<line x1="443.0" y1="102.42" x2="445.5" y2="102.42" stroke="#000" stroke-width="0.85"/>
<line x1="443.0" y1="99.90" x2="445.5" y2="99.90" stroke="#000" stroke-width="0.85"/>
<line x1="443.0" y1="97.95" x2="445.5" y2="97.95" stroke="#000" stroke-width="0.85"/>
<line x1="443.0" y1="96.35" x2="445.5" y2="96.35" stroke="#000" stroke-width="0.85"/>
<line x1="443.0" y1="95.00" x2="445.5" y2="95.00" stroke="#000" stroke-width="0.85"/>
<line x1="443.0" y1="93.83" x2="445.5" y2="93.83" stroke="#000" stroke-width="0.85"/>
<line x1="443.0" y1="92.80" x2="445.5" y2="92.80" stroke="#000" stroke-width="0.85"/>
<g transform="translate(429.58 94.08) scale(0.86 1)"><text x="0" y="0" font-family="Liberation Sans, sans-serif" font-size="8.2" fill="#222">10</text><text x="9.58" y="-2.9" font-family="Liberation Sans, sans-serif" font-size="5.8" fill="#222">0</text></g>
<line x1="442.5" y1="112.04" x2="445.5" y2="112.04" stroke="#000" stroke-width="1.1"/>
<line x1="443.0" y1="126.13" x2="445.5" y2="126.13" stroke="#000" stroke-width="0.85"/>
<line x1="443.0" y1="122.58" x2="445.5" y2="122.58" stroke="#000" stroke-width="0.85"/>
<line x1="443.0" y1="120.06" x2="445.5" y2="120.06" stroke="#000" stroke-width="0.85"/>
<line x1="443.0" y1="118.11" x2="445.5" y2="118.11" stroke="#000" stroke-width="0.85"/>
<line x1="443.0" y1="116.51" x2="445.5" y2="116.51" stroke="#000" stroke-width="0.85"/>
<line x1="443.0" y1="115.16" x2="445.5" y2="115.16" stroke="#000" stroke-width="0.85"/>
<line x1="443.0" y1="113.99" x2="445.5" y2="113.99" stroke="#000" stroke-width="0.85"/>
<line x1="443.0" y1="112.96" x2="445.5" y2="112.96" stroke="#000" stroke-width="0.85"/>
<g transform="translate(427.92 114.24) scale(0.86 1)"><text x="0" y="0" font-family="Liberation Sans, sans-serif" font-size="8.2" fill="#222">10</text><text x="9.58" y="-2.9" font-family="Liberation Sans, sans-serif" font-size="5.8" fill="#222">-1</text></g>
<line x1="442.5" y1="132.20" x2="445.5" y2="132.20" stroke="#000" stroke-width="1.1"/>
<g transform="translate(427.92 134.40) scale(0.86 1)"><text x="0" y="0" font-family="Liberation Sans, sans-serif" font-size="8.2" fill="#222">10</text><text x="9.58" y="-2.9" font-family="Liberation Sans, sans-serif" font-size="5.8" fill="#222">-2</text></g>
<line x1="453.8" y1="84.7" x2="453.8" y2="132.2" stroke="#444" stroke-width="1"/>
<line x1="451.3" y1="84.7" x2="456.3" y2="84.7" stroke="#444" stroke-width="1"/>
<line x1="451.3" y1="132.2" x2="456.3" y2="132.2" stroke="#444" stroke-width="1"/>
<rect x="448.2" y="88.3" width="11.400000000000034" height="27.60000000000001" fill="#a98fc0"/>
<line x1="448.2" y1="101.4" x2="459.6" y2="101.4" stroke="#1a1a1a" stroke-width="1"/>
<circle cx="452.3" cy="84.5" r="1.65" fill="#4b1c6f"/>
<circle cx="455.3" cy="87.5" r="1.65" fill="#4b1c6f"/>
<circle cx="458" cy="87.5" r="1.65" fill="#4b1c6f"/>
<circle cx="452.2" cy="91" r="1.65" fill="#4b1c6f"/>
<circle cx="452.2" cy="98" r="1.65" fill="#4b1c6f"/>
<circle cx="455.5" cy="99.5" r="1.65" fill="#4b1c6f"/>
<circle cx="453.8" cy="104" r="1.65" fill="#4b1c6f"/>
<circle cx="452.3" cy="108.3" r="1.65" fill="#4b1c6f"/>
<circle cx="455.7" cy="109.3" r="1.65" fill="#4b1c6f"/>
<circle cx="453.8" cy="120.3" r="1.65" fill="#4b1c6f"/>
<circle cx="453.8" cy="127" r="1.65" fill="#4b1c6f"/>
<circle cx="453.8" cy="132.3" r="1.65" fill="#4b1c6f"/>
<line x1="470.8" y1="82" x2="470.8" y2="102.1" stroke="#444" stroke-width="1"/>
<line x1="468.3" y1="82" x2="473.3" y2="82" stroke="#444" stroke-width="1"/>
<line x1="468.3" y1="102.1" x2="473.3" y2="102.1" stroke="#444" stroke-width="1"/>
<rect x="465" y="87.3" width="11.600000000000023" height="7.1000000000000085" fill="#a0dca7"/>
<line x1="465" y1="87.5" x2="476.6" y2="87.5" stroke="#1a1a1a" stroke-width="1"/>
<circle cx="470.8" cy="82" r="1.65" fill="#2fb34a"/>
<circle cx="466.5" cy="84.3" r="1.65" fill="#2fb34a"/>
<circle cx="470.8" cy="86" r="1.65" fill="#2fb34a"/>
<circle cx="475" cy="84.5" r="1.65" fill="#2fb34a"/>
<circle cx="468.5" cy="88" r="1.65" fill="#2fb34a"/>
<circle cx="472.5" cy="88" r="1.65" fill="#2fb34a"/>
<circle cx="472" cy="93" r="1.65" fill="#2fb34a"/>
<circle cx="468.8" cy="92.5" r="1.65" fill="#2fb34a"/>
<circle cx="470.8" cy="97" r="1.65" fill="#2fb34a"/>
<circle cx="470.8" cy="102" r="1.65" fill="#2fb34a"/>
<line x1="487.7" y1="53" x2="487.7" y2="107.3" stroke="#444" stroke-width="1"/>
<line x1="485.2" y1="53" x2="490.2" y2="53" stroke="#444" stroke-width="1"/>
<line x1="485.2" y1="107.3" x2="490.2" y2="107.3" stroke="#444" stroke-width="1"/>
<rect x="482.1" y="53" width="11.199999999999989" height="39.5" fill="#e18598"/>
<line x1="482.1" y1="53" x2="493.3" y2="53" stroke="#1a1a1a" stroke-width="1"/>
<circle cx="483" cy="52.5" r="1.65" fill="#d4103b"/>
<circle cx="487" cy="54.5" r="1.65" fill="#d4103b"/>
<circle cx="492" cy="52.5" r="1.65" fill="#d4103b"/>
<circle cx="485.5" cy="53.8" r="1.65" fill="#d4103b"/>
<circle cx="489.5" cy="53.8" r="1.65" fill="#d4103b"/>
<circle cx="487.7" cy="91" r="1.65" fill="#d4103b"/>
<circle cx="487.7" cy="107.3" r="1.65" fill="#d4103b"/>
<line x1="504.8" y1="74.6" x2="504.8" y2="91" stroke="#444" stroke-width="1"/>
<line x1="502.3" y1="74.6" x2="507.3" y2="74.6" stroke="#444" stroke-width="1"/>
<line x1="502.3" y1="91" x2="507.3" y2="91" stroke="#444" stroke-width="1"/>
<rect x="499.2" y="78" width="11.800000000000011" height="13" fill="#9db9d8"/>
<line x1="499.2" y1="85.3" x2="511" y2="85.3" stroke="#1a1a1a" stroke-width="1"/>
<circle cx="504.8" cy="74.6" r="1.65" fill="#1b4e8d"/>
<circle cx="504.8" cy="79.2" r="1.65" fill="#1b4e8d"/>
<circle cx="504.8" cy="83.2" r="1.65" fill="#1b4e8d"/>
<circle cx="500.8" cy="88.5" r="1.65" fill="#1b4e8d"/>
<circle cx="504.8" cy="91.5" r="1.65" fill="#1b4e8d"/>
<circle cx="508.3" cy="90.5" r="1.65" fill="#1b4e8d"/>
<line x1="444.8" y1="132.2" x2="513" y2="132.2" stroke="#000" stroke-width="1.4"/>
<line x1="454.1" y1="132.2" x2="454.1" y2="135.2" stroke="#000" stroke-width="1"/>
<line x1="470.8" y1="132.2" x2="470.8" y2="135.2" stroke="#000" stroke-width="1"/>
<line x1="487.6" y1="132.2" x2="487.6" y2="135.2" stroke="#000" stroke-width="1"/>
<line x1="504.6" y1="132.2" x2="504.6" y2="135.2" stroke="#000" stroke-width="1"/>
<text x="458.40000000000003" y="140.39999999999998" font-family="Liberation Sans, sans-serif" font-size="8.3" text-anchor="end" fill="#111" transform="rotate(-45 458.40000000000003 140.39999999999998)">HC</text>
<text x="475.1" y="140.39999999999998" font-family="Liberation Sans, sans-serif" font-size="8.3" text-anchor="end" fill="#111" transform="rotate(-45 475.1 140.39999999999998)">SCID other</text>
<text x="491.90000000000003" y="140.39999999999998" font-family="Liberation Sans, sans-serif" font-size="8.3" text-anchor="end" fill="#111" transform="rotate(-45 491.90000000000003 140.39999999999998)">GC/JAK3</text>
<text x="508.90000000000003" y="140.39999999999998" font-family="Liberation Sans, sans-serif" font-size="8.3" text-anchor="end" fill="#111" transform="rotate(-45 508.90000000000003 140.39999999999998)">GC/JAK3+IgRT</text>
<line x1="457.4" y1="46.4" x2="487.8" y2="46.4" stroke="#333" stroke-width="1"/>
<circle cx="472.2" cy="42.8" r="1.25" fill="#111"/>
<text x="141.8" y="200.2" font-family="Liberation Sans, sans-serif" font-size="11" font-weight="bold" fill="#000">H</text>
<line x1="188.5" y1="201.3" x2="188.5" y2="344" stroke="#000" stroke-width="1.3"/>
<line x1="184.5" y1="204.60" x2="188.5" y2="204.60" stroke="#000" stroke-width="1.1"/>
<line x1="185.3" y1="228.87" x2="188.5" y2="228.87" stroke="#000" stroke-width="0.8"/>
<line x1="185.3" y1="222.75" x2="188.5" y2="222.75" stroke="#000" stroke-width="0.8"/>
<line x1="185.3" y1="218.42" x2="188.5" y2="218.42" stroke="#000" stroke-width="0.8"/>
<line x1="185.3" y1="215.05" x2="188.5" y2="215.05" stroke="#000" stroke-width="0.8"/>
<line x1="185.3" y1="212.30" x2="188.5" y2="212.30" stroke="#000" stroke-width="0.8"/>
<line x1="185.3" y1="209.98" x2="188.5" y2="209.98" stroke="#000" stroke-width="0.8"/>
<line x1="185.3" y1="207.96" x2="188.5" y2="207.96" stroke="#000" stroke-width="0.8"/>
<line x1="185.3" y1="206.19" x2="188.5" y2="206.19" stroke="#000" stroke-width="0.8"/>
<g transform="translate(169.79 208.80) scale(0.86 1)"><text x="0" y="0" font-family="Liberation Sans, sans-serif" font-size="8.4" fill="#222">10</text><text x="9.81" y="-2.9" font-family="Liberation Sans, sans-serif" font-size="5.6" fill="#222">2</text></g>
<line x1="184.5" y1="239.32" x2="188.5" y2="239.32" stroke="#000" stroke-width="1.1"/>
<line x1="185.3" y1="263.59" x2="188.5" y2="263.59" stroke="#000" stroke-width="0.8"/>
<line x1="185.3" y1="257.47" x2="188.5" y2="257.47" stroke="#000" stroke-width="0.8"/>
<line x1="185.3" y1="253.14" x2="188.5" y2="253.14" stroke="#000" stroke-width="0.8"/>
<line x1="185.3" y1="249.77" x2="188.5" y2="249.77" stroke="#000" stroke-width="0.8"/>
<line x1="185.3" y1="247.02" x2="188.5" y2="247.02" stroke="#000" stroke-width="0.8"/>
<line x1="185.3" y1="244.70" x2="188.5" y2="244.70" stroke="#000" stroke-width="0.8"/>
<line x1="185.3" y1="242.68" x2="188.5" y2="242.68" stroke="#000" stroke-width="0.8"/>
<line x1="185.3" y1="240.91" x2="188.5" y2="240.91" stroke="#000" stroke-width="0.8"/>
<g transform="translate(169.79 243.52) scale(0.86 1)"><text x="0" y="0" font-family="Liberation Sans, sans-serif" font-size="8.4" fill="#222">10</text><text x="9.81" y="-2.9" font-family="Liberation Sans, sans-serif" font-size="5.6" fill="#222">1</text></g>
<line x1="184.5" y1="274.04" x2="188.5" y2="274.04" stroke="#000" stroke-width="1.1"/>
<line x1="185.3" y1="298.31" x2="188.5" y2="298.31" stroke="#000" stroke-width="0.8"/>
<line x1="185.3" y1="292.19" x2="188.5" y2="292.19" stroke="#000" stroke-width="0.8"/>
<line x1="185.3" y1="287.86" x2="188.5" y2="287.86" stroke="#000" stroke-width="0.8"/>
<line x1="185.3" y1="284.49" x2="188.5" y2="284.49" stroke="#000" stroke-width="0.8"/>
<line x1="185.3" y1="281.74" x2="188.5" y2="281.74" stroke="#000" stroke-width="0.8"/>
<line x1="185.3" y1="279.42" x2="188.5" y2="279.42" stroke="#000" stroke-width="0.8"/>
<line x1="185.3" y1="277.40" x2="188.5" y2="277.40" stroke="#000" stroke-width="0.8"/>
<line x1="185.3" y1="275.63" x2="188.5" y2="275.63" stroke="#000" stroke-width="0.8"/>
<g transform="translate(169.79 278.24) scale(0.86 1)"><text x="0" y="0" font-family="Liberation Sans, sans-serif" font-size="8.4" fill="#222">10</text><text x="9.81" y="-2.9" font-family="Liberation Sans, sans-serif" font-size="5.6" fill="#222">0</text></g>
<line x1="184.5" y1="308.76" x2="188.5" y2="308.76" stroke="#000" stroke-width="1.1"/>
<line x1="185.3" y1="333.03" x2="188.5" y2="333.03" stroke="#000" stroke-width="0.8"/>
<line x1="185.3" y1="326.91" x2="188.5" y2="326.91" stroke="#000" stroke-width="0.8"/>
<line x1="185.3" y1="322.58" x2="188.5" y2="322.58" stroke="#000" stroke-width="0.8"/>
<line x1="185.3" y1="319.21" x2="188.5" y2="319.21" stroke="#000" stroke-width="0.8"/>
<line x1="185.3" y1="316.46" x2="188.5" y2="316.46" stroke="#000" stroke-width="0.8"/>
<line x1="185.3" y1="314.14" x2="188.5" y2="314.14" stroke="#000" stroke-width="0.8"/>
<line x1="185.3" y1="312.12" x2="188.5" y2="312.12" stroke="#000" stroke-width="0.8"/>
<line x1="185.3" y1="310.35" x2="188.5" y2="310.35" stroke="#000" stroke-width="0.8"/>
<g transform="translate(166.98 312.96) scale(0.86 1)"><text x="0" y="0" font-family="Liberation Sans, sans-serif" font-size="8.4" fill="#222">10</text><text x="9.81" y="-2.9" font-family="Liberation Sans, sans-serif" font-size="5.6" fill="#222">–1</text></g>
<line x1="184.5" y1="343.48" x2="188.5" y2="343.48" stroke="#000" stroke-width="1.1"/>
<g transform="translate(166.98 347.68) scale(0.86 1)"><text x="0" y="0" font-family="Liberation Sans, sans-serif" font-size="8.4" fill="#222">10</text><text x="9.81" y="-2.9" font-family="Liberation Sans, sans-serif" font-size="5.6" fill="#222">–2</text></g>
<line x1="187.8" y1="343.3" x2="341.1" y2="343.3" stroke="#000" stroke-width="1.3"/>
<line x1="188.60" y1="343.3" x2="188.60" y2="346.5" stroke="#000" stroke-width="1.1"/>
<line x1="196.10" y1="343.3" x2="196.10" y2="345.8" stroke="#000" stroke-width="0.8"/>
<line x1="200.49" y1="343.3" x2="200.49" y2="345.8" stroke="#000" stroke-width="0.8"/>
<line x1="203.60" y1="343.3" x2="203.60" y2="345.8" stroke="#000" stroke-width="0.8"/>
<line x1="206.02" y1="343.3" x2="206.02" y2="345.8" stroke="#000" stroke-width="0.8"/>
<line x1="207.99" y1="343.3" x2="207.99" y2="345.8" stroke="#000" stroke-width="0.8"/>
<line x1="209.66" y1="343.3" x2="209.66" y2="345.8" stroke="#000" stroke-width="0.8"/>
<line x1="211.11" y1="343.3" x2="211.11" y2="345.8" stroke="#000" stroke-width="0.8"/>
<line x1="212.38" y1="343.3" x2="212.38" y2="345.8" stroke="#000" stroke-width="0.8"/>
<g transform="translate(184.60 356.40) scale(0.86 1)"><text x="0" y="0" font-family="Liberation Sans, sans-serif" font-size="8.4" fill="#222">10</text><text x="9.81" y="-2.9" font-family="Liberation Sans, sans-serif" font-size="5.6" fill="#222">–3</text></g>
<line x1="213.52" y1="343.3" x2="213.52" y2="346.5" stroke="#000" stroke-width="1.1"/>
<line x1="221.02" y1="343.3" x2="221.02" y2="345.8" stroke="#000" stroke-width="0.8"/>
<line x1="225.41" y1="343.3" x2="225.41" y2="345.8" stroke="#000" stroke-width="0.8"/>
<line x1="228.52" y1="343.3" x2="228.52" y2="345.8" stroke="#000" stroke-width="0.8"/>
<line x1="230.94" y1="343.3" x2="230.94" y2="345.8" stroke="#000" stroke-width="0.8"/>
<line x1="232.91" y1="343.3" x2="232.91" y2="345.8" stroke="#000" stroke-width="0.8"/>
<line x1="234.58" y1="343.3" x2="234.58" y2="345.8" stroke="#000" stroke-width="0.8"/>
<line x1="236.03" y1="343.3" x2="236.03" y2="345.8" stroke="#000" stroke-width="0.8"/>
<line x1="237.30" y1="343.3" x2="237.30" y2="345.8" stroke="#000" stroke-width="0.8"/>
<g transform="translate(206.90 356.40) scale(0.86 1)"><text x="0" y="0" font-family="Liberation Sans, sans-serif" font-size="8.4" fill="#222">10</text><text x="9.81" y="-2.9" font-family="Liberation Sans, sans-serif" font-size="5.6" fill="#222">–2</text></g>
<line x1="238.44" y1="343.3" x2="238.44" y2="346.5" stroke="#000" stroke-width="1.1"/>
<line x1="245.94" y1="343.3" x2="245.94" y2="345.8" stroke="#000" stroke-width="0.8"/>
<line x1="250.33" y1="343.3" x2="250.33" y2="345.8" stroke="#000" stroke-width="0.8"/>
<line x1="253.44" y1="343.3" x2="253.44" y2="345.8" stroke="#000" stroke-width="0.8"/>
<line x1="255.86" y1="343.3" x2="255.86" y2="345.8" stroke="#000" stroke-width="0.8"/>
<line x1="257.83" y1="343.3" x2="257.83" y2="345.8" stroke="#000" stroke-width="0.8"/>
<line x1="259.50" y1="343.3" x2="259.50" y2="345.8" stroke="#000" stroke-width="0.8"/>
<line x1="260.95" y1="343.3" x2="260.95" y2="345.8" stroke="#000" stroke-width="0.8"/>
<line x1="262.22" y1="343.3" x2="262.22" y2="345.8" stroke="#000" stroke-width="0.8"/>
<g transform="translate(230.80 356.40) scale(0.86 1)"><text x="0" y="0" font-family="Liberation Sans, sans-serif" font-size="8.4" fill="#222">10</text><text x="9.81" y="-2.9" font-family="Liberation Sans, sans-serif" font-size="5.6" fill="#222">–1</text></g>
<line x1="263.36" y1="343.3" x2="263.36" y2="346.5" stroke="#000" stroke-width="1.1"/>
<line x1="270.86" y1="343.3" x2="270.86" y2="345.8" stroke="#000" stroke-width="0.8"/>
<line x1="275.25" y1="343.3" x2="275.25" y2="345.8" stroke="#000" stroke-width="0.8"/>
<line x1="278.36" y1="343.3" x2="278.36" y2="345.8" stroke="#000" stroke-width="0.8"/>
<line x1="280.78" y1="343.3" x2="280.78" y2="345.8" stroke="#000" stroke-width="0.8"/>
<line x1="282.75" y1="343.3" x2="282.75" y2="345.8" stroke="#000" stroke-width="0.8"/>
<line x1="284.42" y1="343.3" x2="284.42" y2="345.8" stroke="#000" stroke-width="0.8"/>
<line x1="285.87" y1="343.3" x2="285.87" y2="345.8" stroke="#000" stroke-width="0.8"/>
<line x1="287.14" y1="343.3" x2="287.14" y2="345.8" stroke="#000" stroke-width="0.8"/>
<g transform="translate(256.00 356.40) scale(0.86 1)"><text x="0" y="0" font-family="Liberation Sans, sans-serif" font-size="8.4" fill="#222">10</text><text x="9.81" y="-2.9" font-family="Liberation Sans, sans-serif" font-size="5.6" fill="#222">0</text></g>
<line x1="288.28" y1="343.3" x2="288.28" y2="346.5" stroke="#000" stroke-width="1.1"/>
<line x1="295.78" y1="343.3" x2="295.78" y2="345.8" stroke="#000" stroke-width="0.8"/>
<line x1="300.17" y1="343.3" x2="300.17" y2="345.8" stroke="#000" stroke-width="0.8"/>
<line x1="303.28" y1="343.3" x2="303.28" y2="345.8" stroke="#000" stroke-width="0.8"/>
<line x1="305.70" y1="343.3" x2="305.70" y2="345.8" stroke="#000" stroke-width="0.8"/>
<line x1="307.67" y1="343.3" x2="307.67" y2="345.8" stroke="#000" stroke-width="0.8"/>
<line x1="309.34" y1="343.3" x2="309.34" y2="345.8" stroke="#000" stroke-width="0.8"/>
<line x1="310.79" y1="343.3" x2="310.79" y2="345.8" stroke="#000" stroke-width="0.8"/>
<line x1="312.06" y1="343.3" x2="312.06" y2="345.8" stroke="#000" stroke-width="0.8"/>
<g transform="translate(282.00 356.40) scale(0.86 1)"><text x="0" y="0" font-family="Liberation Sans, sans-serif" font-size="8.4" fill="#222">10</text><text x="9.81" y="-2.9" font-family="Liberation Sans, sans-serif" font-size="5.6" fill="#222">1</text></g>
<line x1="313.20" y1="343.3" x2="313.20" y2="346.5" stroke="#000" stroke-width="1.1"/>
<line x1="320.70" y1="343.3" x2="320.70" y2="345.8" stroke="#000" stroke-width="0.8"/>
<line x1="325.09" y1="343.3" x2="325.09" y2="345.8" stroke="#000" stroke-width="0.8"/>
<line x1="328.20" y1="343.3" x2="328.20" y2="345.8" stroke="#000" stroke-width="0.8"/>
<line x1="330.62" y1="343.3" x2="330.62" y2="345.8" stroke="#000" stroke-width="0.8"/>
<line x1="332.59" y1="343.3" x2="332.59" y2="345.8" stroke="#000" stroke-width="0.8"/>
<line x1="334.26" y1="343.3" x2="334.26" y2="345.8" stroke="#000" stroke-width="0.8"/>
<line x1="335.71" y1="343.3" x2="335.71" y2="345.8" stroke="#000" stroke-width="0.8"/>
<line x1="336.98" y1="343.3" x2="336.98" y2="345.8" stroke="#000" stroke-width="0.8"/>
<g transform="translate(308.20 356.40) scale(0.86 1)"><text x="0" y="0" font-family="Liberation Sans, sans-serif" font-size="8.4" fill="#222">10</text><text x="9.81" y="-2.9" font-family="Liberation Sans, sans-serif" font-size="5.6" fill="#222">2</text></g>
<line x1="338.12" y1="343.3" x2="338.12" y2="346.5" stroke="#000" stroke-width="1.1"/>
<g transform="translate(331.60 356.40) scale(0.86 1)"><text x="0" y="0" font-family="Liberation Sans, sans-serif" font-size="8.4" fill="#222">10</text><text x="9.81" y="-2.9" font-family="Liberation Sans, sans-serif" font-size="5.6" fill="#222">3</text></g>
<text x="267.2" y="369.8" font-family="Liberation Sans, sans-serif" font-size="9.8" text-anchor="middle" fill="#111" textLength="92" lengthAdjust="spacingAndGlyphs">% of <tspan font-style="italic">Dolosigranulum</tspan> genus</text>
<text x="266.7" y="380.8" font-family="Liberation Sans, sans-serif" font-size="9.8" text-anchor="middle" fill="#111" textLength="99" lengthAdjust="spacingAndGlyphs">in nasopharyngeal microbiota</text>
<text x="151.3" y="273.2" font-family="Liberation Sans, sans-serif" font-size="9.8" text-anchor="middle" fill="#111" transform="rotate(-90 151.3 273.2)" textLength="83" lengthAdjust="spacingAndGlyphs">% of <tspan font-style="italic">Streptococcus</tspan> genus</text>
<text x="162" y="274.3" font-family="Liberation Sans, sans-serif" font-size="9.8" text-anchor="middle" fill="#111" transform="rotate(-90 162 274.3)" textLength="99" lengthAdjust="spacingAndGlyphs">in nasopharyngeal microbiota</text>
<text x="201" y="327.1" font-family="Liberation Sans, sans-serif" font-size="8.3" fill="#222" textLength="39" lengthAdjust="spacingAndGlyphs"><tspan font-style="italic">σ</tspan> = – 0.522</text>
<text x="201" y="335.8" font-family="Liberation Sans, sans-serif" font-size="8.3" fill="#222"><tspan font-style="italic">p</tspan> = 0.002</text>
<rect x="316.1" y="217.4" width="6.7" height="6.7" fill="#4b1c6f"/>
<text x="324.8" y="223.9" font-family="Liberation Sans, sans-serif" font-size="8" fill="#222" textLength="10.5" lengthAdjust="spacingAndGlyphs">HC</text>
<rect x="316.1" y="229.4" width="6.7" height="6.7" fill="#2fb34a"/>
<text x="324.8" y="235.9" font-family="Liberation Sans, sans-serif" font-size="8" fill="#222" textLength="36.4" lengthAdjust="spacingAndGlyphs">SCID other</text>
<rect x="316.1" y="241.4" width="6.7" height="6.7" fill="#d4103b"/>
<text x="324.8" y="247.9" font-family="Liberation Sans, sans-serif" font-size="8" fill="#222" textLength="31" lengthAdjust="spacingAndGlyphs">GC/JAK3</text>
<rect x="316.1" y="253.4" width="6.7" height="6.7" fill="#1b4e8d"/>
<text x="324.8" y="259.90000000000003" font-family="Liberation Sans, sans-serif" font-size="8" fill="#222" textLength="51.6" lengthAdjust="spacingAndGlyphs">GC/JAK3+IgRT</text>
<circle cx="205.7" cy="206.1" r="2.75" fill="#d4103b"/>
<circle cx="214.2" cy="205.5" r="2.75" fill="#d4103b"/>
<circle cx="221.5" cy="208.5" r="2.75" fill="#d4103b"/>
<circle cx="272.6" cy="209.3" r="2.75" fill="#d4103b"/>
<circle cx="241.5" cy="272.6" r="2.75" fill="#d4103b"/>
<circle cx="277.5" cy="300.4" r="2.75" fill="#d4103b"/>
<circle cx="249.2" cy="243.2" r="2.75" fill="#1b4e8d"/>
<circle cx="207.7" cy="270.5" r="2.75" fill="#1b4e8d"/>
<circle cx="240" cy="263.5" r="2.75" fill="#1b4e8d"/>
<circle cx="251.1" cy="272.6" r="2.75" fill="#1b4e8d"/>
<circle cx="268.3" cy="252.5" r="2.75" fill="#1b4e8d"/>
<circle cx="267.3" cy="258.4" r="2.75" fill="#1b4e8d"/>
<circle cx="228.3" cy="265.4" r="2.75" fill="#2fb34a"/>
<circle cx="257" cy="258.4" r="2.75" fill="#2fb34a"/>
<circle cx="264.2" cy="282.5" r="2.75" fill="#2fb34a"/>
<circle cx="269.3" cy="256.4" r="2.75" fill="#2fb34a"/>
<circle cx="276" cy="263.3" r="2.75" fill="#2fb34a"/>
<circle cx="283.6" cy="262.5" r="2.75" fill="#2fb34a"/>
<circle cx="245.2" cy="260.5" r="2.75" fill="#4b1c6f"/>
<circle cx="262.3" cy="277.2" r="2.75" fill="#4b1c6f"/>
<circle cx="270.1" cy="266.4" r="2.75" fill="#4b1c6f"/>
<circle cx="281.1" cy="264.8" r="2.75" fill="#4b1c6f"/>
<circle cx="278.5" cy="272.7" r="2.75" fill="#4b1c6f"/>
<circle cx="274.5" cy="286.2" r="2.75" fill="#4b1c6f"/>
<circle cx="279.2" cy="286.5" r="2.75" fill="#4b1c6f"/>
<circle cx="302.3" cy="290.6" r="2.75" fill="#4b1c6f"/>
<circle cx="284.2" cy="303" r="2.75" fill="#4b1c6f"/>
<circle cx="304.5" cy="306.2" r="2.75" fill="#4b1c6f"/>
<circle cx="276.9" cy="316.8" r="2.75" fill="#4b1c6f"/>
<rect x="0.5" y="0.5" width="519" height="390" fill="none" stroke="#000" stroke-width="1.2"/>
</svg>
</body></html>
